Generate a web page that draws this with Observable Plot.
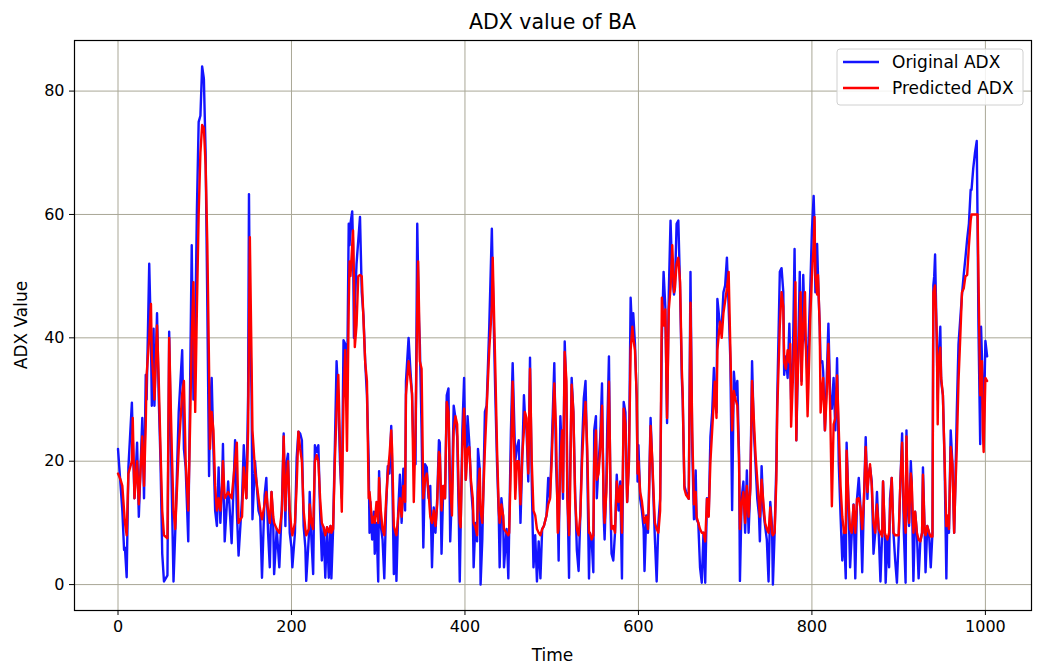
<!DOCTYPE html>
<html><head><meta charset="utf-8">
<script src="https://cdn.jsdelivr.net/npm/d3@7"></script>
<script src="https://cdn.jsdelivr.net/npm/@observablehq/plot@0.6"></script>
<style>body{margin:0;background:#fff;}</style>
</head><body><div id="chart"></div>
<script>
const time = [0,3,5,7,8,10,12,16,17,19,22,24,28,30,32,33,36,38,39,41,42,45,47,49,51,53,57,59,62,64,66,70,74,76,78,81,83,85,87,89,91,93,95,97,99,101,103,105,106,108,110,112,114,116,118,120,
121,123,127,131,135,137,139,143,145,148,150,151,152,154,155,158,162,164,166,169,171,173,175,177,179,180,183,186,189,191,193,194,196,198,200,201,204,206,208,210,212,214,216,217,220,221,223,225,227,229,231,233,235,237,239,241,243,
245,246,248,250,252,254,256,258,260,262,264,266,267,268,270,271,272,273,275,277,279,281,283,285,287,289,290,291,293,295,296,298,300,301,303,305,307,309,311,313,315,316,318,320,321,323,325,327,329,331,332,335,337,339,341,343,345,346,347,348,350,352,354,356,358,360,362,364,366,368,370,
371,373,375,377,379,381,383,385,387,389,391,393,394,395,397,399,401,403,405,407,409,410,412,414,415,417,418,420,421,423,425,428,431,432,435,437,439,440,442,444,445,448,450,451,453,455,458,460,462,464,466,468,469,471,473,475,477,479,481,483,485,487,489,491,494,496,498,
500,503,505,507,508,510,512,513,515,517,518,520,521,523,525,527,529,531,533,535,537,539,541,543,544,546,548,549,551,552,554,556,558,560,561,563,564,566,568,569,571,573,575,577,579,581,583,585,587,589,591,593,594,596,598,599,600,602,604,606,607,609,611,612,614,616,618,619,621,623,625,627,629,
631,633,635,637,639,641,642,644,646,648,650,651,653,655,658,660,662,664,666,667,669,671,673,675,677,679,681,683,685,687,688,690,691,694,696,698,700,702,704,706,708,710,712,714,716,717,719,721,723,725,727,729,731,733,735,737,739,740,742,744,746,748,750,752,
754,755,757,759,760,763,765,767,768,770,772,774,775,776,778,780,781,782,783,786,787,788,790,792,793,795,796,798,800,802,803,804,806,807,809,810,812,813,815,817,819,821,823,825,827,829,831,833,835,837,839,840,842,844,846,848,850,852,854,856,858,860,862,864,865,867,869,871,873,875,877,879,
881,882,884,885,887,889,890,892,894,896,898,900,902,904,906,908,909,910,912,914,915,917,919,921,923,925,927,928,930,931,933,935,937,939,940,941,942,944,945,946,948,949,951,953,955,956,958,960,962,964,965,967,969,971,973,975,977,979,981,983,984,986,988,990,991,992,994,995,996,997,998,1000,1002];

const originalADX = [22,16,12,5.6,6,1.2,19,29.5,24,14,23,11,27,14,34,30,52,40,29,41.5,29,44,30,20,5,0.5,1.5,41,15,0.5,8.5,28,38,22,19,7,31,55,30,41,61,75,76,84,82,70,45,17.6,28,33.5,22,12,9.5,19,10,16,
22.8,7,16.7,6.7,23.4,12,4.7,13.9,22.6,14,30.7,63.3,45,30.7,10.6,20,12,11,1.1,14.5,17.3,8.4,2.8,15,9.5,1.7,9,2.8,13,24.5,9.5,19.5,21.2,8.4,6,2.8,8.4,20.6,24.8,24.5,23.4,9.5,6,0.6,7.8,15,7.3,1.7,22.6,21.5,22.6,11.8,3.9,9.3,1.1,9.3,1.1,
9.5,1,9,22.3,36.2,30,19.5,14,39.6,39,30,58.5,55,58.5,60.5,55,40,45,52,55.8,59.6,47.4,43.5,36,30.7,20,8.4,13.4,7.3,11.8,5,10,0.5,18.4,9.5,7.3,1,12,19.2,18,25.7,19.5,1.7,8.4,0.6,11.8,17.8,10,18.8,12,33,40,35,30.7,20,19.5,58.5,50,42.8,39,25,6,19.5,19,14,16,2.8,12.5,8.4,14,23.4,
23,5,16,14,30.7,31.8,7,15,29,27,24,10,0.5,9,25,33.5,17,27.3,23,16,12,2.8,10,7,22,18.8,0,7.3,14,28,29,41.8,57.7,50,30.7,19.5,11,2.8,14,11,2.8,9,1,9,25,35.9,20,22.3,23.4,10,20,30.7,27.9,25,16.7,36.8,16.7,2.8,8,0.5,7,1,9,9.5,11.2,17.3,14,
22,35.9,19.5,12,3.9,27.3,20,13.9,39.4,30.7,16,1.1,16.7,33.5,27.9,15,5.6,2.2,11.2,22.3,30.2,33,19.5,1,8.4,7.3,2,25,27.3,14,19.5,24,32.6,11,7.3,16.7,25,37,11,5,3.9,8.4,17.8,12,16.7,1,29.6,27.9,13.4,20,46.5,40,44,39,30,16.7,22.6,13.9,12,9,2.2,11.2,8.4,14,27,19.5,11.2,7.3,0.5,10,13.9,40,50.7,
45,26.2,47.4,59,50,47,48,58.5,59,48,33.5,30,16,15,13.9,50.7,22.3,10.6,18.5,10.6,10,2.8,0.3,8.4,0.3,14,11.2,24,27.9,35.1,30,27.9,46.3,42,41.8,47.4,48.5,53,45,36.2,12.1,34.5,30.7,33,21,0.6,14,16.7,8.4,18.5,8.4,16,36.2,25,19.5,13.9,11.2,7,19.2,12,9.5,7.3,0.5,13.4,
9.5,0,8.4,19.5,30,50.7,51.3,47.4,34,37,33.5,42.3,36,30,36.2,54.4,40,23.4,30,50.7,40,33,50.2,40,39,33.5,39,47.4,57.4,63,58,47.4,55.2,50,41.8,36,36.2,34.5,25,33,42.3,30.7,28.5,33.5,25,36.7,19.5,11.2,3.9,8.4,1,23,13.9,2.8,8.4,13,1,13.9,17.3,12.5,2,13.9,23.9,13.9,17.8,19,16.7,5,8.4,15,8.4,0.5,
8.4,16.7,8.4,0.3,7.3,2.8,13.9,17.3,8.4,3.9,0.3,7.3,16.7,24.5,8.4,0.3,25,13.9,9.5,20,16.7,0.6,11.8,8.4,1,7,8.4,19,8.4,2,9.5,8.4,2.8,8.4,48.5,50,53.5,39,30,36.2,41.8,33,30.7,19.5,1,10,8.4,25,19.5,8.4,13.9,27.9,39,43,47,50.2,53,56,58.5,64,64,67.5,70,71.9,58.5,41.8,22.8,41.8,37,30,25,39.5,37];

const predictedADX = [18,17,16,12,10,8,18,20,27,14,20,13,24,16,26,34,40,45.5,37,33,30,42,33,22,12,8,7.5,40,22,12,9,22,31,33,20,12,25,40,49,28,45,60,70,74.5,74,68,55,35,22,28,25,16,12,14,12,16,
20,14,15,14,20,23,10,11,19,14,25,40,56.3,36,25,18.5,14,12,10.6,13,15,12,10,15,11,10,9,8.4,12,24,12,16,20,12,9,8,10,16,24.8,22,20,12,9,8,9,13,10,9,20,21,20,14,10,9.3,8,9.3,8.5,
9.5,8.4,9,20,28,34,22,11.8,30,38,21.7,45,52.4,50,55,57.4,50,38.5,42,50,50.2,50,43,36,33,14,15,13.4,10,11,10,13.4,10,17.3,12,9,8,13.4,18,21,25,22,9.5,8.4,8,11,14,11,16,13.4,30.7,36.2,33.5,31,13.4,25,45,52.4,45,36.2,35,14,17,18,15,11,10,12,9.5,13,21.5,
21,12,16,14,29.6,28,16,11.2,25,27.3,26,14,10,9.3,22,28.5,17,22,22.3,16.7,14,10,9.3,8,15,18.8,12,10,13.9,22,28.4,38,45,53,35,22,12,10,13,11.2,9,8.4,8,8.4,20,32.9,13.9,20,20,13,21,25,28,27,18,35,20,12,11.2,9,8.4,8,9,9.5,11.2,13,13.9,
20,32.6,25,8.4,9,20,25,15,37.7,33,13.9,8,13,32.4,28,13.9,9,8,11.2,20,26,29.6,22,8.4,8.4,7.3,8,20,25,17,18,22,29,13,10,15,20,32.9,14,9,9.5,8.4,16.7,13.4,16,8.4,28.5,26,13.4,19.5,38,41.8,40,38,30.7,18,20,15,13.5,11,10,11,9,13,25.7,20,13,10,9,8.4,12,46.5,42,
44.6,27,44.6,48,55,47.4,48,52,53,49,35,31,15.5,14.5,13.9,45.7,25,13,15,11,10,9,8.4,8.4,7,13.9,11,20,25,30,32.9,27,38,42.6,40,44,46,48,50.7,38,25,31.4,30,29,20,9,13,15,10,16,11,15.6,33,27,21,17,13,11,17,13.4,10,9,8.4,12.5,
8.4,8,8.4,17,28,42,47.4,45,36,35,38,36,39,25.6,33,42,49,23.4,31,43,47.4,32.4,42,47.4,39,27.3,32,43,50,55,59.6,50,47,50.2,41.8,27.9,32,33.5,25,30.7,39,29,12.7,26,27,33.9,25,16,11,8.4,8.4,21.7,14,9,8.4,12.9,8.4,13.9,14,12.4,9,13.9,22.3,15,17,19.5,16,10,8.4,13,9,8.4,
7.8,16.7,8.4,8,7.3,8.4,12,17.3,8.4,8,8,8,16.7,23,12,8.4,24,17,10,18,16.7,8.4,11.8,8.4,7.3,7,8.4,17.8,8.4,8,9.5,8.4,7.8,7.8,47.4,48,48.5,40,26,36,38.4,33.5,30.7,20,9.5,11.2,9,22.3,19.5,8.4,13.9,22,33,40,47.4,48,50,50.2,55,59,60,60,60,60,60,50,30.7,32,36.2,25,21.5,33.5,33];

const xTicks = [0, 200, 400, 600, 800, 1000];
const yTicks = [0, 20, 40, 60, 80];
const titleText = "ADX value of BA";
const xLabel = "Time";
const yLabel = "ADX Value";
const seriesNames = ["Original ADX", "Predicted ADX"];
const seriesColors = ["#1414ff", "#ff0000"];

const rows = time.map((t, i) => ({t, orig: originalADX[i], pred: predictedADX[i]}));

const W = 1037, H = 664, mL = 74, mR = 6, mT = 40, mB = 54;
const chart = Plot.plot({
  width: W, height: H, marginLeft: mL, marginRight: mR, marginTop: mT, marginBottom: mB,
  style: {fontFamily: "DejaVu Sans", fontSize: "16px", color: "#000", background: "#fff"},
  x: {domain: [-50.15, 1053.15], label: null},
  y: {domain: [-4.2, 88.2], label: null},
  marks: [
    Plot.gridX(xTicks, {stroke: "#a9a796", strokeOpacity: 1, strokeWidth: 1}),
    Plot.gridY(yTicks, {stroke: "#a9a796", strokeOpacity: 1, strokeWidth: 1}),
    Plot.line(rows, {x: "t", y: "orig", stroke: seriesColors[0], strokeWidth: 2.4}),
    Plot.line(rows, {x: "t", y: "pred", stroke: seriesColors[1], strokeWidth: 2.4}),
    Plot.frame({stroke: "#000", strokeWidth: 1.2}),
    Plot.axisX(xTicks, {tickSize: 5, tickPadding: 5, label: null, fontSize: 16, tickFormat: d3.format("d")}),
    Plot.axisY(yTicks, {tickSize: 5, tickPadding: 5, label: null, fontSize: 16, tickFormat: d3.format("d")})
  ]
});
document.getElementById("chart").appendChild(chart);

const svg = d3.select(chart);
const cx = mL + (W - mL - mR) / 2;
svg.append("text").attr("x", cx).attr("y", 29).attr("text-anchor", "middle")
  .style("font-size", "20.5px").attr("fill", "#000").text(titleText);
svg.append("text").attr("x", cx).attr("y", 661).attr("text-anchor", "middle")
  .style("font-size", "17px").attr("fill", "#000").text(xLabel);
svg.append("text").attr("transform", `translate(27,${mT + (H - mT - mB) / 2}) rotate(-90)`)
  .attr("text-anchor", "middle").style("font-size", "17px").attr("fill", "#000").text(yLabel);

const lg = svg.append("g");
lg.append("rect").attr("x", 837).attr("y", 49).attr("width", 186).attr("height", 56)
  .attr("rx", 3).attr("fill", "#fff").attr("fill-opacity", 0.85).attr("stroke", "#d0d0d0");
seriesNames.forEach((name, i) => {
  const yy = 62 + i * 26;
  lg.append("line").attr("x1", 843).attr("x2", 879).attr("y1", yy).attr("y2", yy)
    .attr("stroke", seriesColors[i]).attr("stroke-width", 2.4);
  lg.append("text").attr("x", 892).attr("y", yy + 6).attr("text-anchor", "start")
    .style("font-size", "17px").attr("fill", "#000").text(name);
});
</script>
</body></html>
